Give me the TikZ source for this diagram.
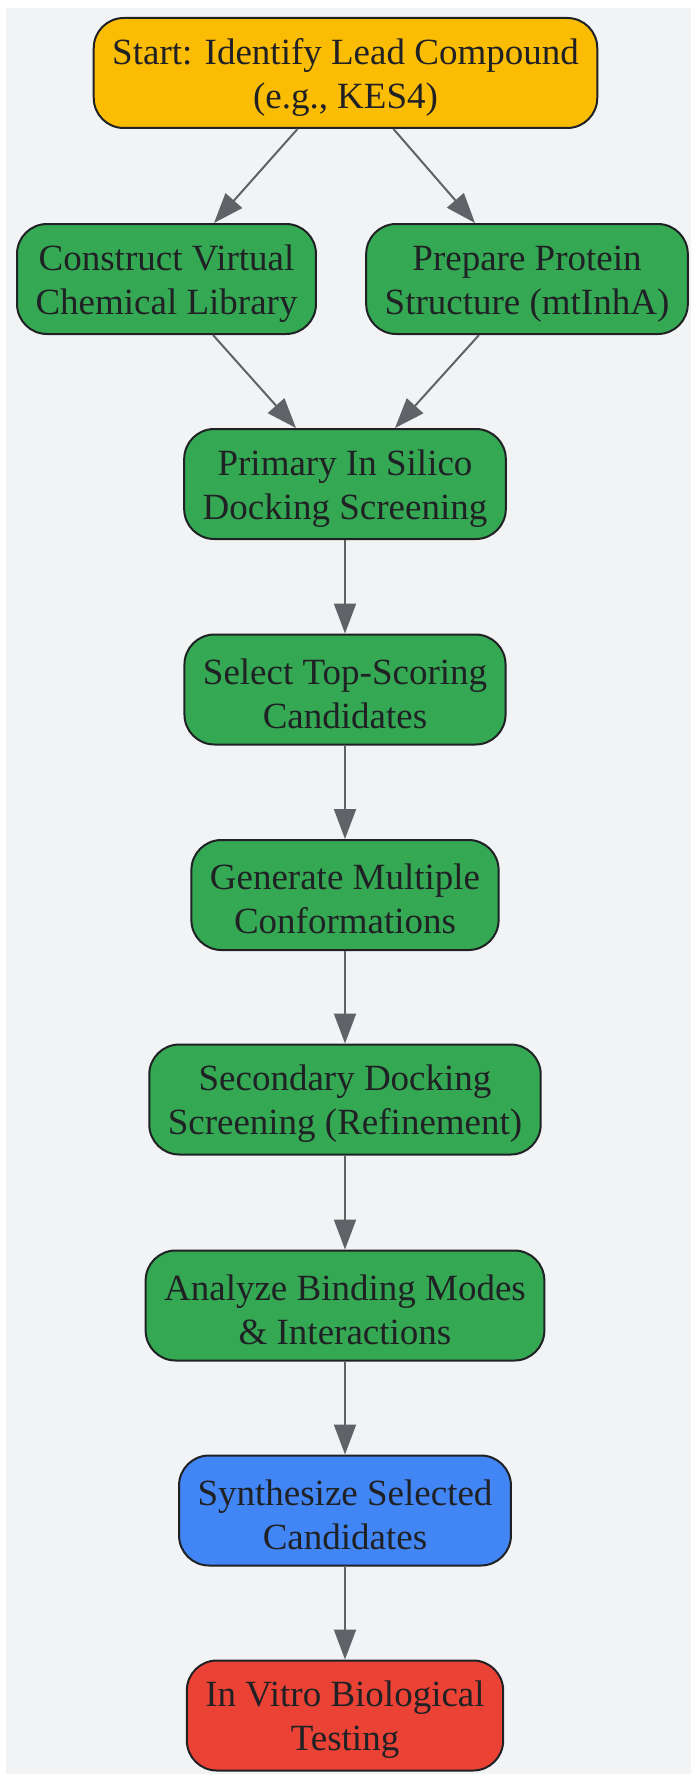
\documentclass[tikz,border=0pt]{standalone}
\usepackage{fontspec}
\setmainfont{Liberation Serif}
\usetikzlibrary{arrows.meta}
\definecolor{fondgris}{HTML}{F1F3F4}
\definecolor{jaune}{HTML}{FBBC04}
\definecolor{vert}{HTML}{34A853}
\definecolor{bleu}{HTML}{4285F4}
\definecolor{rouge}{HTML}{EA4335}
\definecolor{bordure}{HTML}{202124}
\definecolor{trait}{HTML}{5F6368}
\begin{document}
\begin{tikzpicture}[x=1pt,y=-1pt,
  etape/.style={draw=bordure,line width=2pt,rounded corners=30pt,align=center,
    minimum height=110pt,inner xsep=18.5pt,text=bordure,font=\fontsize{37}{44}\selectfont,
    execute at begin node={\rule{0pt}{78pt}}},
  fleche/.style={draw=trait,line width=2pt,-{Triangle[length=30pt,width=22pt]}}]

% cadre et fond
\useasboundingbox (0,0) rectangle (691,1774);
\fill[fondgris] (6,8) rectangle (691,1774);

%%%%%%%%%%%%%%%%%%%%%%%%
%Début des étapes
%%%%%%%%%%%%%%%%%%%%%%%%

    %Abscisse de la colonne centrale
    \def \Milieu {345}

\node[etape,fill=jaune] (depart) at (345.5,73) {Start: Identify Lead Compound\\(e.g., KES4)};
\node[etape,fill=vert] (biblio) at (166.5,279) {Construct Virtual\\Chemical Library};
\node[etape,fill=vert] (proteine) at (527,279) {Prepare Protein\\Structure (mtInhA)};
\node[etape,fill=vert] (criblage) at (\Milieu,484) {Primary In Silico\\Docking Screening};
\node[etape,fill=vert] (selection) at (\Milieu,689.5) {Select Top-Scoring\\Candidates};
\node[etape,fill=vert] (conformes) at (\Milieu,895) {Generate Multiple\\Conformations};
\node[etape,fill=vert] (affinage) at (\Milieu,1099.5) {Secondary Docking\\Screening (Refinement)};
\node[etape,fill=vert] (analyse) at (\Milieu,1305.5) {Analyze Binding Modes\\\& Interactions};
\node[etape,fill=bleu] (synthese) at (\Milieu,1510.5) {Synthesize Selected\\Candidates};
\node[etape,fill=rouge] (test) at (\Milieu,1715.5) {In Vitro Biological\\Testing};

%%%%%%%%%%%%%%%%%%%%%%%%
%Fin des étapes
%%%%%%%%%%%%%%%%%%%%%%%%

% flèches obliques (séparation puis réunion)
\draw[fleche] ([xshift=-48pt]depart.south) -- ([xshift=47.5pt]biblio.north);
\draw[fleche] ([xshift=48pt]depart.south) -- ([xshift=-52pt]proteine.north);
\draw[fleche] ([xshift=46.5pt]biblio.south) -- ([xshift=-49pt]criblage.north);
\draw[fleche] ([xshift=-48pt]proteine.south) -- ([xshift=50pt]criblage.north);

% flèches verticales
\foreach \a/\b in {criblage/selection,selection/conformes,conformes/affinage,affinage/analyse,analyse/synthese,synthese/test}
    {\draw[fleche] (\a) -- (\b);}

\end{tikzpicture}
\end{document}
